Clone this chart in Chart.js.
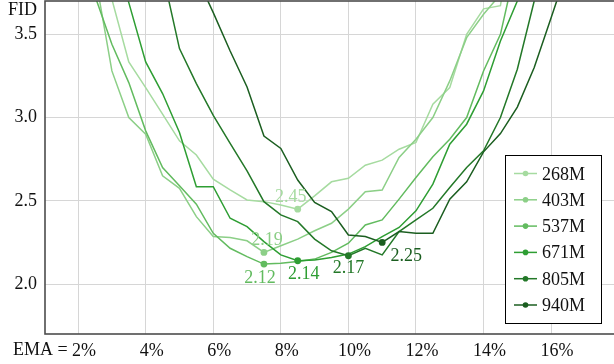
<!DOCTYPE html>
<html>
<head>
<meta charset="utf-8">
<script src="https://cdn.jsdelivr.net/npm/chart.js@4.4.1/dist/chart.umd.min.js"></script>
<style>
  html, body { margin: 0; padding: 0; overflow: hidden; background: #ffffff; }
  canvas { display: block; }
</style>
</head>
<body>
<canvas id="chart" width="620" height="364"></canvas>
<script>
// EMA length (% of training) at which each snapshot was evaluated
const emaPercent = [2.5, 3.0, 3.5, 4.0, 4.5, 5.0, 5.5, 6.0, 6.5, 7.0, 7.5, 8.0, 8.5, 9.0, 9.5,
                    10.0, 10.5, 11.0, 11.5, 12.0, 12.5, 13.0, 13.5, 14.0, 14.5, 15.0, 15.5, 16.0, 16.5];

// FID per model size (null = not evaluated / off the plotted range)
const fid268M = [4.10, 3.71, 3.334, 3.18, 3.02, 2.86, 2.775, 2.63, 2.565, 2.505, 2.495, 2.475, 2.45, 2.53, 2.614,
                 2.635, 2.714, 2.744, 2.81, 2.85, 3.08, 3.18, 3.50, 3.653, 3.672, 4.30, null, null, null];
const fid403M = [3.86, 3.28, 3.00, 2.90, 2.65, 2.575, 2.405, 2.285, 2.28, 2.26, 2.19, 2.23, 2.27, 2.32, 2.365,
                 2.45, 2.555, 2.565, 2.76, 2.87, 3.00, 3.22, 3.48, 3.62, 3.74, 4.20, null, null, null];
const fid537M = [3.73, 3.44, 3.21, 2.92, 2.70, 2.59, 2.48, 2.305, 2.215, 2.165, 2.12, 2.125, 2.135, 2.15, 2.19,
                 2.245, 2.355, 2.385, 2.51, 2.64, 2.765, 2.87, 3.00, 3.28, 3.50, 3.95, null, null, null];
const fid671M = [null, 4.05, 3.69, 3.334, 3.144, 2.91, 2.585, 2.585, 2.395, 2.345, 2.255, 2.175, 2.14, 2.145, 2.16,
                 2.18, 2.225, 2.285, 2.34, 2.44, 2.60, 2.84, 2.96, 3.16, 3.46, 3.70, 4.10, null, null];
const fid805M = [null, null, null, null, 3.87, 3.414, 3.204, 3.013, 2.845, 2.68, 2.495, 2.415, 2.375, 2.27, 2.20,
                 2.17, 2.215, 2.175, 2.315, 2.385, 2.455, 2.58, 2.70, 2.80, 3.00, 3.29, 3.70, 4.10, null];
const fid940M = [null, null, null, null, null, null, 3.85, 3.63, 3.40, 3.184, 2.889, 2.814, 2.625, 2.49, 2.435,
                 2.295, 2.285, 2.25, 2.315, 2.305, 2.305, 2.51, 2.614, 2.794, 2.904, 3.063, 3.30, 3.60, 3.90];

const seriesNames = ['268M', '403M', '537M', '671M', '805M', '940M'];
const seriesValues = [fid268M, fid403M, fid537M, fid671M, fid805M, fid940M];

// axis ticks
const xTicks = [2, 4, 6, 8, 10, 12, 14, 16];
const yTicks = [2.0, 2.5, 3.0, 3.5];

// styling
const seriesColors = ['#a6dba0', '#8ccf87', '#62bb5f', '#2e9e33', '#237828', '#1b5e20'];
const minLabelOffsets = [[-7, -13], [3, -13], [-4, 12.5], [6, 12.5], [0, 11.5], [24, 13]];
const FONT = '"Liberation Serif", "Times New Roman", serif';
const FONT_SIZE = 18;

function argMin(values) {
  let best = -1;
  values.forEach((v, i) => {
    if (v !== null && (best < 0 || v < values[best])) best = i;
  });
  return best;
}

const datasets = seriesValues.map((values, s) => {
  const points = [];
  let minPoint = -1;
  const minIdx = argMin(values);
  values.forEach((v, i) => {
    if (v === null) return;
    if (i === minIdx) minPoint = points.length;
    points.push({ x: emaPercent[i], y: v });
  });
  return {
    label: seriesNames[s],
    data: points,
    borderColor: seriesColors[s],
    backgroundColor: seriesColors[s],
    borderWidth: 1.5,
    tension: 0,
    order: seriesValues.length - s,
    minPoint: minPoint,
    pointRadius: (ctx) => (ctx.dataIndex === minPoint ? 3.4 : 0),
    pointHoverRadius: 0,
    pointBorderWidth: 0
  };
});

// frame, axis captions, minimum labels and legend box
const decorations = {
  id: 'decorations',
  afterDatasetsDraw(chart) {
    const { ctx, chartArea: a, scales } = chart;
    ctx.save();

    // plot frame
    ctx.strokeStyle = '#4d4d4d';
    ctx.lineWidth = 1.6;
    ctx.strokeRect(a.left, a.top, a.right - a.left, a.bottom - a.top);

    // minimum value labels
    ctx.font = FONT_SIZE + 'px ' + FONT;
    ctx.textAlign = 'center';
    ctx.textBaseline = 'alphabetic';
    chart.data.datasets.forEach((ds, s) => {
      const p = ds.data[ds.minPoint];
      const px = scales.x.getPixelForValue(p.x);
      const py = scales.y.getPixelForValue(p.y);
      const [dx, dy] = minLabelOffsets[s];
      ctx.fillStyle = ds.borderColor;
      ctx.fillText(p.y.toFixed(2), px + dx, py + dy + 6);
    });

    // axis captions
    ctx.fillStyle = '#111111';
    ctx.textAlign = 'right';
    ctx.fillText('FID', a.left - 8, 14.5);
    const firstX = scales.x.getPixelForValue(xTicks[0]) + 6;
    const firstW = ctx.measureText(xTicks[0] + '%').width;
    ctx.textBaseline = 'middle';
    ctx.fillText('EMA = ', firstX - firstW / 2, 350);

    // legend
    const lx = 505, ly = 155, lw = 96, lh = 168;
    ctx.fillStyle = '#ffffff';
    ctx.fillRect(lx, ly, lw, lh);
    ctx.strokeStyle = '#000000';
    ctx.lineWidth = 1;
    ctx.strokeRect(lx + 0.5, ly + 0.5, lw, lh);
    ctx.textAlign = 'left';
    ctx.textBaseline = 'alphabetic';
    chart.data.datasets.forEach((ds, s) => {
      const y = 173.5 + s * 26.3;
      ctx.strokeStyle = ds.borderColor;
      ctx.lineWidth = 1.5;
      ctx.beginPath();
      ctx.moveTo(514, y);
      ctx.lineTo(537, y);
      ctx.stroke();
      ctx.fillStyle = ds.borderColor;
      ctx.beginPath();
      ctx.arc(525.5, y, 2.8, 0, Math.PI * 2);
      ctx.fill();
      ctx.fillStyle = '#111111';
      ctx.fillText(ds.label, 542, y + 6);
    });
    ctx.restore();
  }
};

new Chart(document.getElementById('chart'), {
  type: 'line',
  data: { datasets },
  options: {
    responsive: false,
    animation: false,
    devicePixelRatio: 1,
    layout: { padding: { top: 1, right: 3, left: 0, bottom: 0 } },
    plugins: { legend: { display: false }, tooltip: { enabled: false } },
    scales: {
      x: {
        type: 'linear',
        min: 1.02,
        max: 17.95,
        afterFit: (scale) => {
          scale.height = 30;
          scale.paddingLeft = 0;
          scale.paddingRight = 0;
        },
        afterBuildTicks: (scale) => { scale.ticks = xTicks.map((v) => ({ value: v })); },
        grid: { color: '#d6d6d6', lineWidth: 1, drawTicks: false },
        border: { display: false },
        ticks: {
          padding: 6,
          labelOffset: 6,
          maxRotation: 0,
          autoSkip: false,
          color: '#111111',
          font: { family: FONT, size: FONT_SIZE },
          callback: (v) => v + '%'
        }
      },
      y: {
        type: 'linear',
        min: 1.70,
        max: 3.70,
        afterFit: (scale) => {
          scale.width = 45;
          scale.paddingTop = 0;
          scale.paddingBottom = 0;
        },
        afterBuildTicks: (scale) => { scale.ticks = yTicks.map((v) => ({ value: v })); },
        grid: { color: '#d6d6d6', lineWidth: 1, drawTicks: false },
        border: { display: false },
        ticks: {
          padding: 8,
          autoSkip: false,
          color: '#111111',
          font: { family: FONT, size: FONT_SIZE },
          callback: (v) => Number(v).toFixed(1)
        }
      }
    }
  },
  plugins: [decorations]
});
</script>
</body>
</html>
